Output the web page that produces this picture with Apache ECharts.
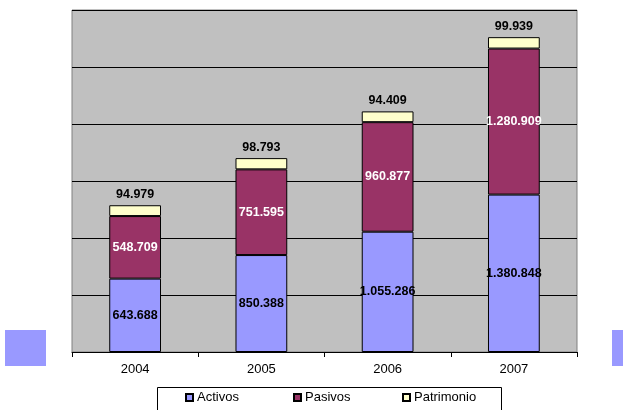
<!DOCTYPE html>
<html>
<head>
<meta charset="utf-8">
<script src="https://cdn.jsdelivr.net/npm/echarts@6/dist/echarts.min.js"></script>
<style>html,body{margin:0;padding:0;background:#fff}#c{width:623px;height:410px}</style>
</head>
<body>
<div id="c"></div>
<script>
const categories = ['2004', '2005', '2006', '2007'];
const activos = [643688, 850388, 1055286, 1380848];
const pasivos = [548709, 751595, 960877, 1280909];
const patrimonio = [94979, 98793, 94409, 99939];
const seriesNames = ['Activos', 'Pasivos', 'Patrimonio'];

function fmt(v) {
  return String(v).replace(/\B(?=(\d{3})+(?!\d))/g, '.');
}
const FONT = '"Liberation Sans", Arial, sans-serif';
const chart = echarts.init(document.getElementById('c'));
const lbl = (color, pos) => ({
  show: true, position: pos, color: color, fontFamily: FONT, fontSize: 12.5, fontWeight: 'bold',
  distance: 4, formatter: p => fmt(p.value)
});
chart.setOption({
  animation: false,
  grid: { left: 72, right: 46, top: 10, bottom: 58, show: true, backgroundColor: '#C0C0C0', borderColor: '#808080', borderWidth: 1 },
  xAxis: {
    type: 'category', data: categories,
    axisLine: { lineStyle: { color: '#000', width: 1 } },
    axisTick: { show: true, length: 5, lineStyle: { color: '#000' } },
    axisLabel: { color: '#000', fontFamily: FONT, fontSize: 13, margin: 11 }
  },
  yAxis: {
    type: 'value', min: 0, max: 3000000, interval: 500000,
    axisLine: { show: false }, axisTick: { show: false }, axisLabel: { show: false },
    splitLine: { lineStyle: { color: '#000', width: 1 } }
  },
  legend: [
    { data: [seriesNames[0]], left: 185, top: 391 },
    { data: [seriesNames[1]], left: 293, top: 391 },
    { data: [seriesNames[2]], left: 402, top: 391 }
  ].map(l => Object.assign(l, {
    itemWidth: 7, itemHeight: 7, itemGap: 0, icon: 'rect', padding: 0,
    textStyle: { color: '#000', fontFamily: FONT, fontSize: 13, padding: [0, 0, 0, -1] }
  })),
  graphic: [
    { type: 'rect', shape: { x: 157.5, y: 387.5, width: 344, height: 40 }, style: { fill: 'none', stroke: '#000', lineWidth: 1 }, z: 100 },
    { type: 'rect', shape: { x: 5, y: 330, width: 41, height: 36 }, style: { fill: '#9999FF' } },
    { type: 'rect', shape: { x: 612, y: 330, width: 15, height: 36 }, style: { fill: '#9999FF' } }
  ],
  series: [
    { name: seriesNames[0], type: 'bar', stack: 's', data: activos, barWidth: '41%',
      itemStyle: { color: '#9999FF', borderColor: '#000', borderWidth: 1 }, label: lbl('#000', 'inside') },
    { name: seriesNames[1], type: 'bar', stack: 's', data: pasivos,
      itemStyle: { color: '#993366', borderColor: '#000', borderWidth: 1 }, label: lbl('#fff', 'inside') },
    { name: seriesNames[2], type: 'bar', stack: 's', data: patrimonio,
      itemStyle: { color: '#FFFFCC', borderColor: '#000', borderWidth: 1 }, label: lbl('#000', 'top') }
  ]
});
</script>
</body>
</html>
